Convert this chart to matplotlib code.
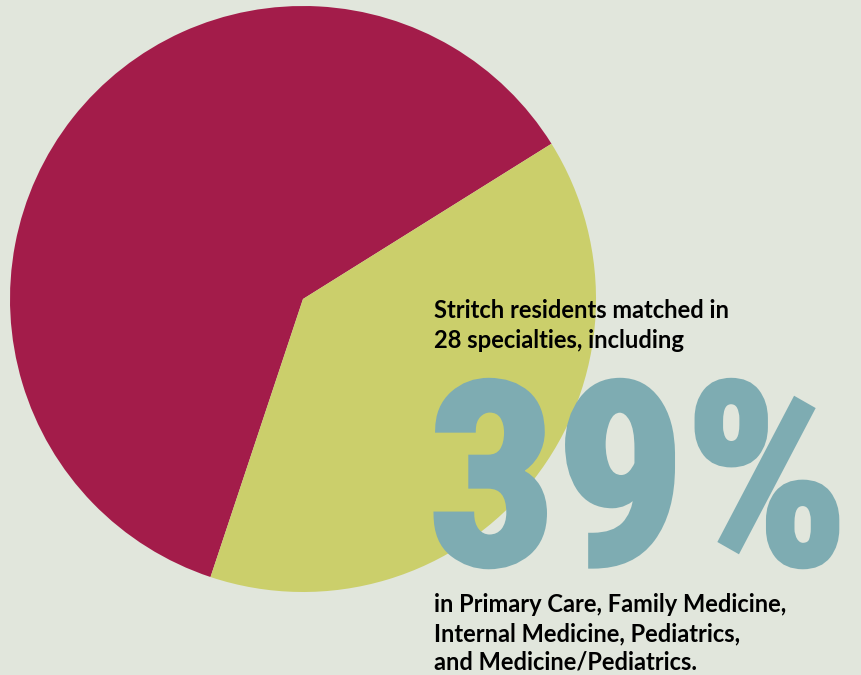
import matplotlib.pyplot as plt
import matplotlib.patheffects as pe
from matplotlib import font_manager

# data
labels = ['Other specialties', 'Primary care']
shares = [61, 39]
colors = ['#a31c4a', '#cbcf6b']
big_number = '39%'
intro_lines = ['Stritch residents matched in', '28 specialties, including']
detail_lines = ['in Primary Care, Family Medicine,',
                'Internal Medicine, Pediatrics,',
                'and Medicine/Pediatrics.']

bg = '#e1e6dc'
teal = '#7eacb2'
W, H = 862, 675

names = {f.name for f in font_manager.fontManager.ttflist}


def pick(cands):
    for c in cands:
        if c in names:
            return c
    return 'DejaVu Sans'


body_font = pick(['Lato', 'Open Sans'])
big_font = pick(['Roboto Condensed', 'Archivo Narrow', 'Roboto'])

fig = plt.figure(figsize=(W / 100, H / 100), dpi=100, facecolor=bg)
ax = fig.add_axes([0, 0, 1, 1])
ax.set_facecolor(bg)

ax.pie(shares, colors=colors, startangle=32, center=(303, H - 299),
       radius=293, frame=True, wedgeprops=dict(linewidth=0))
ax.set_xlim(0, W)
ax.set_ylim(0, H)
ax.set_aspect('equal')
ax.axis('off')

renderer = fig.canvas.get_renderer()


def fit_size(s, width, **kw):
    t = ax.text(0, 0, s, fontsize=20, **kw)
    w = t.get_window_extent(renderer).width
    t.remove()
    return 20 * width / w


intro_size = fit_size(intro_lines[0], 297, fontweight='bold', family=body_font)
detail_size = fit_size(detail_lines[0], 352, fontweight='bold', family=body_font)
big_size = fit_size(big_number, 420, fontweight='bold', family=big_font)

for i, line in enumerate(intro_lines):
    ax.text(434, H - 318 - i * 30, line, fontsize=intro_size, fontweight='bold',
            family=body_font, color='black', va='baseline', ha='left')

ax.text(428, H - 564, big_number, fontsize=big_size, fontweight='bold',
        family=big_font, color=teal, va='baseline', ha='left',
        path_effects=[pe.withStroke(linewidth=4, foreground=teal, joinstyle='miter')])

for i, line in enumerate(detail_lines):
    ax.text(434, H - 612 - i * 29, line, fontsize=detail_size, fontweight='bold',
            family=body_font, color='black', va='baseline', ha='left')

fig.savefig('out.png', dpi=100, facecolor=bg)
